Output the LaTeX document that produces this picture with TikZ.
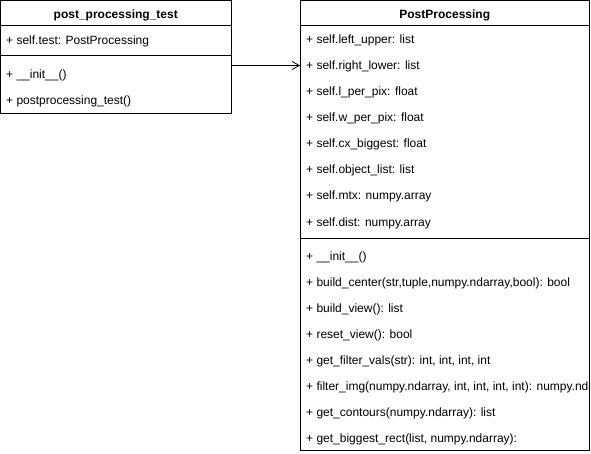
\documentclass[tikz,border=0pt]{standalone}
\usepackage{fontspec}
\setmainfont{Liberation Sans}
\usetikzlibrary{arrows.meta, positioning}
\tikzstyle{classhead} = [rectangle, draw=black, line width=1pt, outer sep=0pt, inner sep=0pt, font=\fontsize{12}{14}\selectfont\bfseries, text height=11.5pt, text depth=0pt]
\tikzstyle{classpart} = [rectangle, draw=black, line width=1pt, outer sep=0pt, inner sep=0pt]
\tikzstyle{member} = [anchor=base west, inner sep=0pt]

\begin{document}
\begin{tikzpicture}[x=1pt, y=-1pt, font=\fontsize{12}{14}\selectfont]
\useasboundingbox (0,0) rectangle (591,454);
% class post_processing_test
\node (testhead) [classhead, minimum width=230.5pt, minimum height=25.5pt, anchor=north west] at (0.5,0.5) {post\_processing\_test};
\node (testattr) [classpart, minimum width=230.5pt, minimum height=30pt, below=0pt of testhead] {};
\node (testmeth) [classpart, minimum width=230.5pt, minimum height=58pt, below=0pt of testattr] {};
\node (testattr1) [member] at (6,44.5) {+ self.test: PostProcessing};
\node (testmeth1) [member] at (6,78.5) {+ \_\_init\_\_()};
\node (testmeth2) [member] at (6,104.5) {+ postprocessing\_test()};
% class PostProcessing
\node (pphead) [classhead, minimum width=289.5pt, minimum height=25.5pt, anchor=north west] at (300,0.5) {PostProcessing};
\node (ppattr) [classpart, minimum width=289.5pt, minimum height=212.5pt, below=0pt of pphead] {};
\node (ppmeth) [classpart, minimum width=289.5pt, minimum height=212pt, below=0pt of ppattr] {};
\node (ppattr1) [member] at (306,44) {+ self.left\_upper: list};
\node (ppattr2) [member] at (306,70) {+ self.right\_lower: list};
\node (ppattr3) [member] at (306,96) {+ self.l\_per\_pix: float};
\node (ppattr4) [member] at (306,122) {+ self.w\_per\_pix: float};
\node (ppattr5) [member] at (306,148) {+ self.cx\_biggest: float};
\node (ppattr6) [member] at (306,174) {+ self.object\_list: list};
\node (ppattr7) [member] at (306,200) {+ self.mtx: numpy.array};
\node (ppattr8) [member] at (306,226) {+ self.dist: numpy.array};
\begin{scope}
\clip (ppmeth.north west) rectangle (ppmeth.south east);
\node (ppmeth1) [member] at (306,260) {+ \_\_init\_\_()};
\node (ppmeth2) [member] at (306,286) {+ build\_center(str,tuple,numpy.ndarray,bool): bool};
\node (ppmeth3) [member] at (306,312) {+ build\_view(): list};
\node (ppmeth4) [member] at (306,338) {+ reset\_view(): bool};
\node (ppmeth5) [member] at (306,364) {+ get\_filter\_vals(str): int, int, int, int};
\node (ppmeth6) [member] at (306,390) {+ filter\_img(numpy.ndarray, int, int, int, int): numpy.ndarray};
\node (ppmeth7) [member] at (306,416) {+ get\_contours(numpy.ndarray): list};
\node (ppmeth8) [member] at (306,442) {+ get\_biggest\_rect(list, numpy.ndarray):};
\end{scope}
% association
\draw [-{Straight Barb[length=7pt, width=8pt]}, line width=0.8pt] ([yshift=-9.5pt]testmeth.north east) -- ([yshift=-39.5pt]ppattr.north west);
\end{tikzpicture}
\end{document}
